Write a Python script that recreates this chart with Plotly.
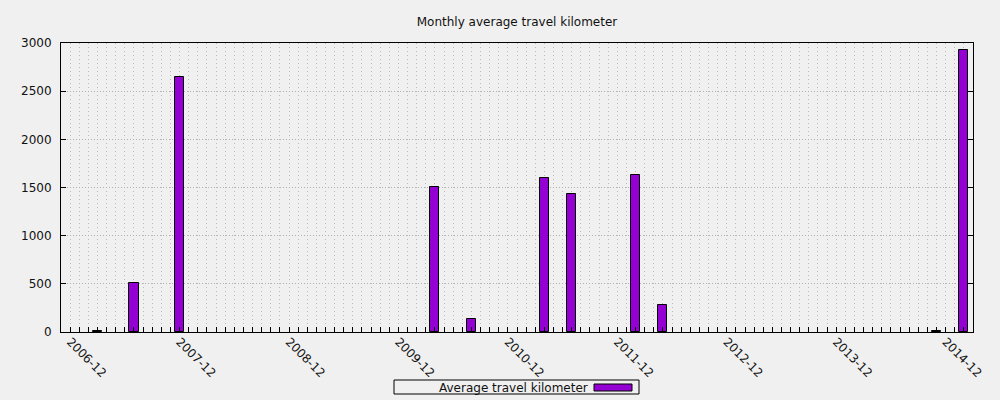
import pandas as pd
import plotly.graph_objects as go

# All months on the category axis
months = [str(p) for p in pd.period_range("2006-12", "2015-02", freq="M")]
label_months = ["2006-12", "2007-12", "2008-12", "2009-12", "2010-12",
                "2011-12", "2012-12", "2013-12", "2014-12"]

# Months with a recorded average
bar_months = ["2007-03", "2007-07", "2007-12", "2010-04", "2010-08", "2011-04",
              "2011-07", "2012-02", "2012-05", "2014-11", "2015-02"]
bar_values = [15, 510, 2648, 1505, 135, 1600, 1434, 1628, 278, 15, 2928]

ticktext = [m if m in label_months else "" for m in months]

fig = go.Figure()
fig.add_trace(go.Bar(
    x=bar_months,
    y=bar_values,
    width=1.0,
    marker=dict(color="#9400D3", line=dict(color="black", width=1)),
    name="Average travel kilometer",
    showlegend=False,
))

fig.update_layout(
    width=1000,
    height=400,
    paper_bgcolor="#f0f0f0",
    plot_bgcolor="#f0f0f0",
    margin=dict(l=61, r=27, t=43, b=68),
    font=dict(family="DejaVu Sans", size=12, color="#111"),
    title=dict(text="Monthly average travel kilometer", x=0.517, xanchor="center",
               y=0.945, yanchor="middle", font=dict(size=12)),
    bargap=0,
)

fig.update_xaxes(
    type="category",
    categoryorder="array",
    categoryarray=months,
    range=[-1, len(months)],
    tickmode="array",
    tickvals=months,
    ticktext=ticktext,
    tickangle=45,
    ticks="inside",
    ticklen=5,
    tickcolor="black",
    showline=True,
    linecolor="black",
    linewidth=1,
    mirror=True,
    showgrid=True,
    gridcolor="#bcbcbc",
    griddash="1px,3px",
    gridwidth=1,
    zeroline=False,
    ticklabelstandoff=-3,
)

fig.update_yaxes(
    range=[0, 3000],
    dtick=500,
    ticks="inside",
    ticklen=5,
    tickcolor="black",
    showline=True,
    linecolor="black",
    linewidth=1,
    mirror="ticks",
    showgrid=True,
    gridcolor="#b0b0b0",
    griddash="1px,2px",
    gridwidth=1,
    zeroline=False,
    ticklabelstandoff=6,
)

# Legend box drawn by hand (gnuplot puts the sample to the right of the text)
fig.add_shape(type="rect", xref="paper", yref="paper", layer="below",
              x0=(394 - 61) / 912, x1=(639 - 61) / 912,
              y0=(332 - 394) / 289, y1=(332 - 380) / 289,
              line=dict(color="black", width=1), fillcolor="rgba(0,0,0,0)")
fig.add_shape(type="rect", xref="paper", yref="paper",
              x0=(594 - 61) / 912, x1=(632 - 61) / 912,
              y0=(332 - 391) / 289, y1=(332 - 384) / 289,
              line=dict(color="black", width=1), fillcolor="#9400D3")
fig.add_annotation(text="Average travel kilometer", xref="paper", yref="paper",
                   x=(513 - 61) / 912, y=(332 - 387.5) / 289,
                   xanchor="center", yanchor="middle", showarrow=False,
                   font=dict(size=12))

fig.write_html("out.html", config={"displayModeBar": False},
               post_script="document.body.style.margin='0';")
